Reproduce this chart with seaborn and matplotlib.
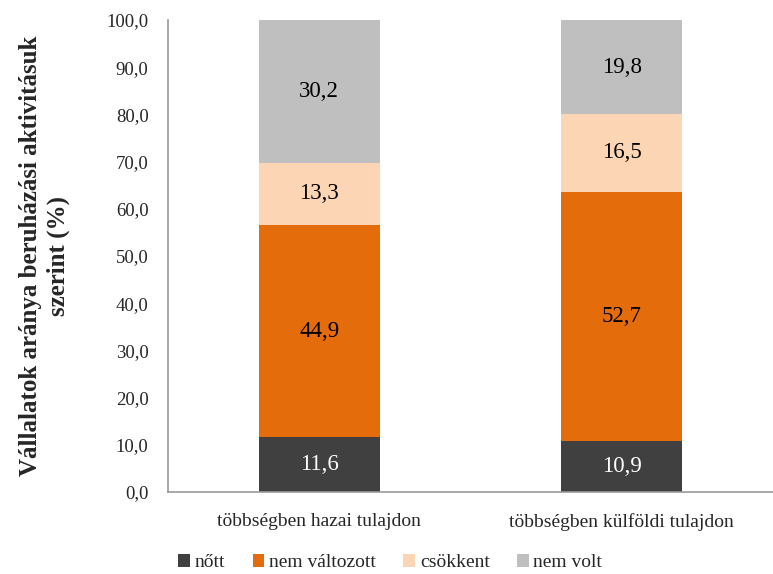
import matplotlib
matplotlib.use("Agg")
from matplotlib import pyplot as plt
from matplotlib.patches import Patch
import numpy as np
import pandas as pd
import seaborn as sns

categories = ["többségben hazai tulajdon", "többségben külföldi tulajdon"]
series = ["nőtt", "nem változott", "csökkent", "nem volt"]
nott = [11.6, 10.9]
nem_valtozott = [44.9, 52.7]
csokkent = [13.3, 16.5]
nem_volt = [30.2, 19.8]
colors = ["#404040", "#E46C0A", "#FCD5B5", "#BFBFBF"]
text_colors = ["white", "black", "black", "black"]

sns.set_theme(style="white")
plt.rcParams['font.family'] = ['Liberation Serif', 'DejaVu Serif']

values = np.array([nott, nem_valtozott, csokkent, nem_volt])
cum = np.cumsum(values, axis=0)

fig = plt.figure(figsize=(7.73, 5.74), dpi=100)
ax = fig.add_axes([0.2173, 0.1429, 0.7827, 0.8223])

# draw from the top total down so each layer covers the one below
for i in range(len(series) - 1, -1, -1):
    df = pd.DataFrame({"cat": categories, "val": cum[i]})
    sns.barplot(data=df, x="cat", y="val", color=colors[i], width=0.4,
                saturation=1, edgecolor="none", ax=ax)

for j in range(len(categories)):
    for i in range(len(series)):
        mid = cum[i][j] - values[i][j] / 2
        ax.text(j, mid, f"{values[i][j]:.1f}".replace(".", ","),
                ha="center", va="center", fontsize=16.5, color=text_colors[i])

ax.set_ylim(0, 100)
ax.set_xlim(-0.5, 1.475)
ax.set_yticks(np.arange(0, 101, 10))
ax.set_yticklabels([f"{v:.1f}".replace(".", ",") for v in np.arange(0, 101, 10)])
ax.set_xticks([-0.5, 0.5, 1.5], minor=True)
ax.tick_params(axis="x", which="minor", length=6, color="#999999", width=1, direction="out")
ax.tick_params(axis="x", which="major", length=0, labelsize=14, pad=15)
ax.tick_params(axis="y", length=5, color="#999999", width=1, direction="out", labelsize=13.5, pad=9)
ax.set_xlabel("")
ax.set_ylabel("Vállalatok aránya beruházási aktivitásuk\nszerint (%)",
              fontsize=18, fontweight="bold", labelpad=26, linespacing=1.25)
for s in ["top", "right"]:
    ax.spines[s].set_visible(False)
for s in ["left", "bottom"]:
    ax.spines[s].set_color("#999999")
    ax.spines[s].set_linewidth(1.2)

handles = [Patch(facecolor=c, edgecolor="none", label=l) for c, l in zip(colors, series)]
fig.legend(handles=handles, loc="lower center", bbox_to_anchor=(0.505, -0.026), ncol=4,
           frameon=False, fontsize=14, handlelength=0.6, handleheight=0.6,
           handletextpad=0.25, columnspacing=1.4)

fig.savefig("out.png", dpi=100)
